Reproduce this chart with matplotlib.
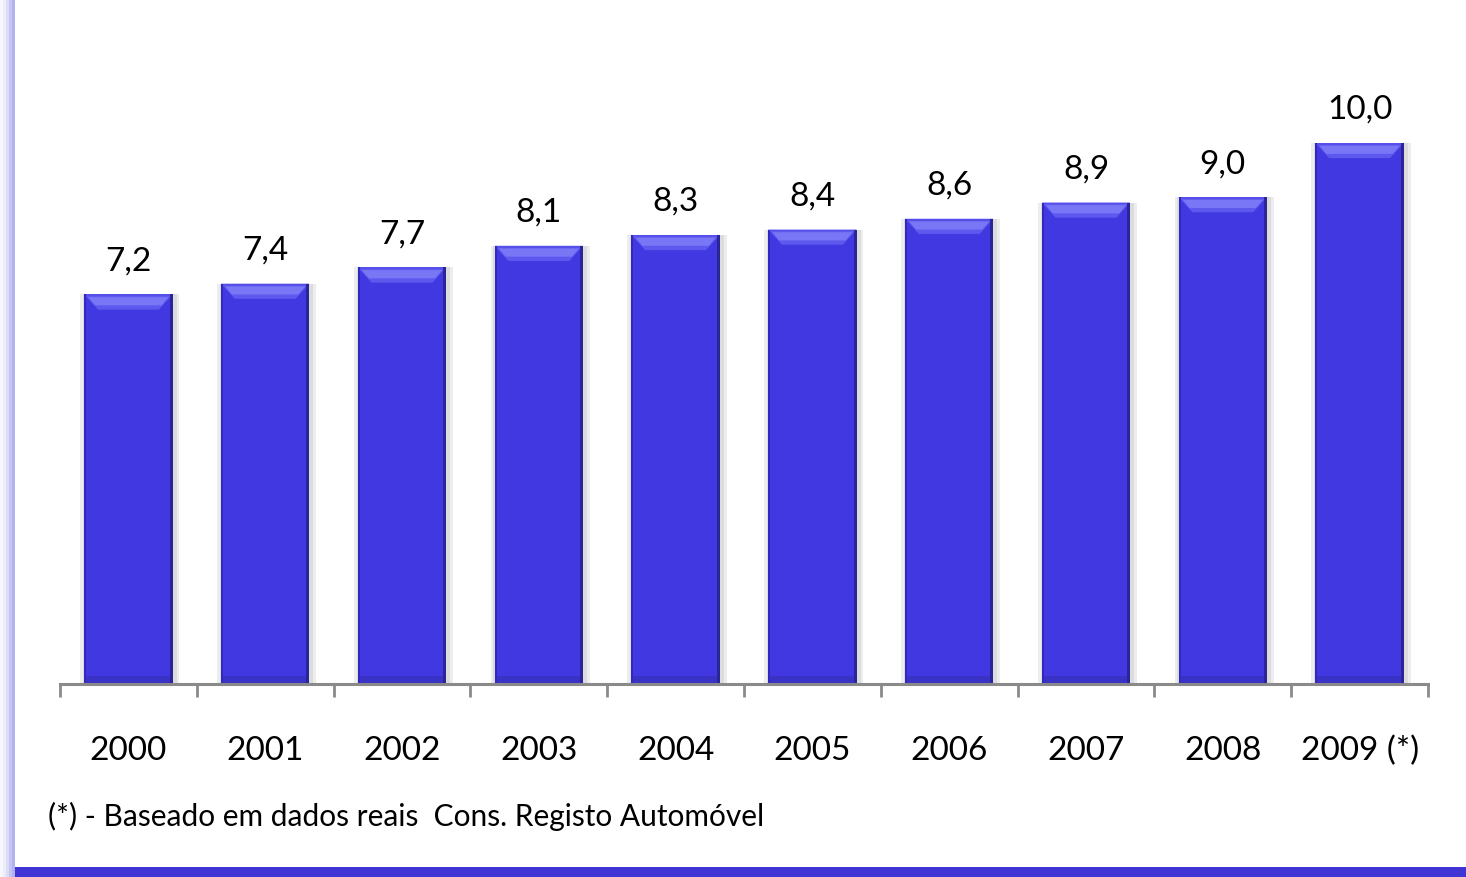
import numpy as np
import matplotlib
matplotlib.use('Agg')
import matplotlib.pyplot as plt
from matplotlib.patches import Polygon, Rectangle

plt.rcParams['font.family'] = ['Lato', 'DejaVu Sans']

years = ['2000', '2001', '2002', '2003', '2004', '2005', '2006', '2007', '2008', '2009 (*)']
values = [7.2, 7.4, 7.7, 8.1, 8.3, 8.4, 8.6, 8.9, 9.0, 10.0]
value_labels = ['7,2', '7,4', '7,7', '8,1', '8,3', '8,4', '8,6', '8,9', '9,0', '10,0']
footnote = '(*) - Baseado em dados reais  Cons. Registo Automóvel'

W, H = 1466, 878
fig = plt.figure(figsize=(W / 100, H / 100), dpi=100)
fig.patch.set_facecolor('white')

# axes box in pixels: x 60..1428, baseline at y=685, 54.1 px per unit
ax = fig.add_axes([60 / W, (H - 685) / H, (1428 - 60) / W, 685 / H])
ax.set_xlim(-0.5, len(years) - 0.5)
ax.set_ylim(0, 685 / 54.1)

x = np.arange(len(years))
bw = 0.645
bev_x = 0.10   # bevel inset (x units)
bev_y = 0.28   # bevel height (y units)

# soft shadow behind bars
ax.bar(x + 0.01, values, bw + 0.08, color='#ededed', zorder=1)
ax.bar(x + 0.01, values, bw + 0.04, color='#dcdcdc', zorder=1)
ax.bar(x, values, bw, color='#4138E2', zorder=2)

for xi, v in zip(x, values):
    l, r = xi - bw / 2, xi + bw / 2
    # top bevel highlight
    ax.add_patch(Polygon([(l, v), (r, v), (r - bev_x, v - bev_y), (l + bev_x, v - bev_y)],
                         closed=True, color='#5E59EE', lw=0, zorder=3))
    ax.add_patch(Polygon([(l + 0.03, v - 0.05), (r - 0.03, v - 0.05),
                          (r - bev_x + 0.02, v - bev_y + 0.08), (l + bev_x - 0.02, v - bev_y + 0.08)],
                         closed=True, color='#7A77F6', lw=0, zorder=3))
    ax.add_patch(Rectangle((l, v - 0.035), bw, 0.035, color='#5650E8', lw=0, zorder=4))
    # side edges
    ax.add_patch(Rectangle((r - 0.022, 0), 0.022, v, color='#2B2698', lw=0, zorder=4))
    ax.add_patch(Rectangle((l, 0), 0.014, v, color='#3128C0', lw=0, zorder=4))
    ax.add_patch(Rectangle((l, 0), bw, 0.15, color='#3A32C4', lw=0, zorder=3))

for xi, v, lab in zip(x, values, value_labels):
    ax.annotate(lab, (xi, v), xytext=(0, 18), textcoords='offset points',
                ha='center', va='baseline', fontsize=24, color='black')

for s in ['top', 'right', 'left']:
    ax.spines[s].set_visible(False)
ax.spines['bottom'].set_color('#8a8a8a')
ax.spines['bottom'].set_linewidth(2.2)
ax.spines['bottom'].set_zorder(5)

ax.set_yticks([])
ax.set_xticks(x)
ax.set_xticklabels(years, fontsize=24)
ax.tick_params(axis='x', which='major', length=0, pad=36.5)
ax.set_xticks(np.arange(len(years) + 1) - 0.5, minor=True)
ax.tick_params(axis='x', which='minor', length=9.5, width=2, color='#8a8a8a', direction='out')

fig.text(48 / W, 1 - 826 / H, footnote, fontsize=21.5, ha='left', va='baseline')

# frame decorations: left lavender line and bottom blue band
for i, c in enumerate(['#f6f6fd', '#ececfa', '#dcdcf6', '#c4c4f3', '#b2b2f1']):
    fig.add_artist(Rectangle((i * 3 / W, 0), 3 / W, 1, transform=fig.transFigure,
                             color=c, lw=0))
fig.add_artist(Rectangle((15 / W, 0), 1 - 15 / W, 10 / H, transform=fig.transFigure,
                         color='#4034D4', lw=0))

fig.savefig('out.png', dpi=100)
